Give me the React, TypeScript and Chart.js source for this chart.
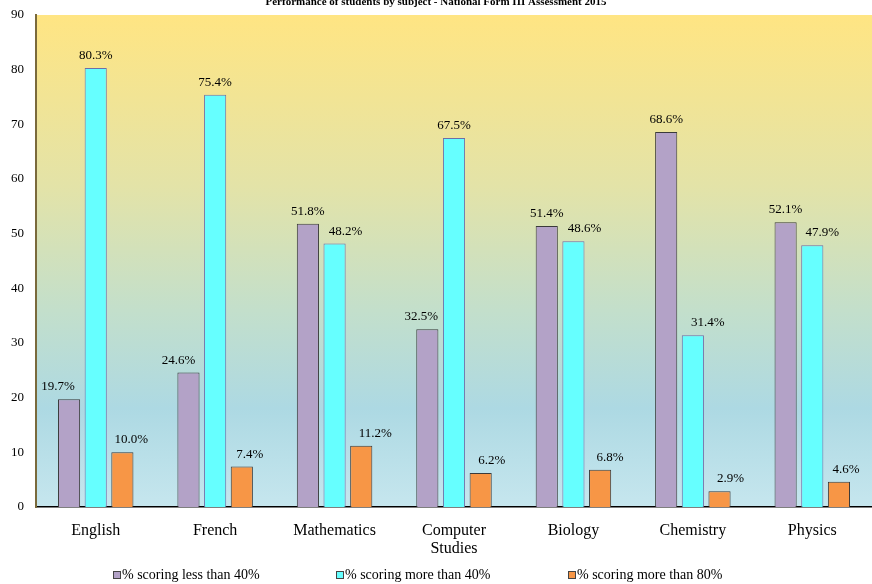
import React, { useEffect, useRef } from "react";
import { Chart, registerables } from "chart.js";

Chart.register(...registerables);

const chartTitle = "Performance of students by subject - National Form III Assessment 2015";
const categories: (string | string[])[] = ["English", "French", "Mathematics", ["Computer", "Studies"], "Biology", "Chemistry", "Physics"];
const seriesLabels = ["% scoring less than 40%", "% scoring more than 40%", "% scoring more than 80%"];
const lessThan40 = [19.7, 24.6, 51.8, 32.5, 51.4, 68.6, 52.1];
const moreThan40 = [80.3, 75.4, 48.2, 67.5, 48.6, 31.4, 47.9];
const moreThan80 = [10.0, 7.4, 11.2, 6.2, 6.8, 2.9, 4.6];
const yTicks = [0, 10, 20, 30, 40, 50, 60, 70, 80, 90];

// styling: horizontal nudges of the value labels (px, relative to bar centre)
const labelNudge = [
  [-11, -10, 0, -6, 0, 0, 0],
  [0, 0, 11, 0, 11, 15, 10],
  [9, 8, 14, 11, 10, 11, 7],
];

const fills = ["#B3A2C7", "#66FFFF", "#F79646"];
const borders = ["#3a3a3a", "#6E6EA8", "#3a3a3a"];
const FONT = "'Liberation Serif', 'Times New Roman', serif";

const bgPlugin = {
  id: "bgGradient",
  beforeDraw(chart: any) {
    const { ctx, chartArea } = chart;
    if (!chartArea) return;
    const g = ctx.createLinearGradient(0, chartArea.top, 0, chartArea.bottom);
    g.addColorStop(0, "#FFE583");
    g.addColorStop(0.35, "#E3E3A8");
    g.addColorStop(0.6, "#C3DFCB");
    g.addColorStop(0.8, "#ADD9E3");
    g.addColorStop(1, "#C6E6EE");
    ctx.save();
    ctx.fillStyle = g;
    ctx.fillRect(chartArea.left, chartArea.top, chartArea.right - chartArea.left, chartArea.bottom - chartArea.top);
    ctx.restore();
  },
  afterDraw(chart: any) {
    const { ctx } = chart;
    ctx.save();
    // title
    ctx.font = `bold 11px ${FONT}`;
    ctx.fillStyle = "#000";
    ctx.textAlign = "center";
    ctx.textBaseline = "middle";
    ctx.fillText(chartTitle, 436, 2);
    // value labels
    ctx.font = `13px ${FONT}`;
    ctx.textBaseline = "alphabetic";
    chart.data.datasets.forEach((ds: any, i: number) => {
      const meta = chart.getDatasetMeta(i);
      meta.data.forEach((bar: any, j: number) => {
        ctx.fillText(ds.data[j].toFixed(1) + "%", bar.x + labelNudge[i][j], bar.y - 9);
      });
    });
    // legend
    ctx.font = `14px ${FONT}`;
    ctx.textAlign = "left";
    ctx.textBaseline = "middle";
    const xs = [113, 336, 568];
    seriesLabels.forEach((lab, i) => {
      const x = xs[i];
      const y = 575;
      ctx.fillStyle = fills[i];
      ctx.fillRect(x, y - 4, 7, 7);
      ctx.strokeStyle = "#444";
      ctx.lineWidth = 1;
      ctx.strokeRect(x + 0.5, y - 3.5, 7, 7);
      ctx.fillStyle = "#000";
      ctx.fillText(lab, x + 9, y);
    });
    ctx.restore();
  },
};

export default function App() {
  const ref = useRef<HTMLCanvasElement>(null);
  useEffect(() => {
    if (!ref.current) return;
    const data = [lessThan40, moreThan40, moreThan80];
    const chart = new Chart(ref.current, {
      type: "bar",
      data: {
        labels: categories,
        datasets: seriesLabels.map((label, i) => ({
          label,
          data: data[i],
          backgroundColor: fills[i],
          borderColor: borders[i],
          borderWidth: 1,
          categoryPercentage: 0.67,
          barPercentage: 0.83,
        })),
      },
      options: {
        responsive: false,
        animation: false,
        layout: { padding: { top: 15, right: 0, left: 0, bottom: 0 } },
        plugins: {
          legend: { display: false },
          title: { display: false },
          tooltip: { enabled: false },
        },
        scales: {
          x: {
            grid: { display: false },
            border: { color: "#000", width: 1.5 },
            ticks: { color: "#000", font: { family: FONT, size: 16, lineHeight: 1.1 }, padding: 7, maxRotation: 0, autoSkip: false },
            afterFit(scale: any) {
              scale.height = 77;
              scale.paddingLeft = 0;
              scale.paddingRight = 0;
            },
          },
          y: {
            min: 0,
            max: 90,
            afterBuildTicks(scale: any) {
              scale.ticks = yTicks.map((v) => ({ value: v }));
            },
            grid: { display: false, drawTicks: false },
            border: { color: "#7A6A3C", width: 2 },
            ticks: { color: "#000", font: { family: FONT, size: 13 }, padding: 12 },
            afterFit(scale: any) {
              scale.width = 36;
              scale.paddingTop = 0;
              scale.paddingBottom = 0;
            },
          },
        },
      },
      plugins: [bgPlugin],
    });
    return () => chart.destroy();
  }, []);
  return (
    <div style={{ position: "absolute", left: 0, top: 0, width: 872, height: 584, background: "#fff" }}>
      <canvas ref={ref} width={872} height={584} />
    </div>
  );
}
